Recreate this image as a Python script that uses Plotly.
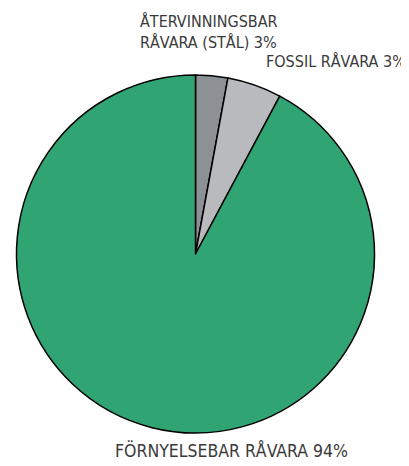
import plotly.graph_objects as go

categories = ["ÅTERVINNINGSBAR RÅVARA (STÅL)", "FOSSIL RÅVARA", "FÖRNYELSEBAR RÅVARA"]
values = [2.9, 4.9, 92.2]
label_texts = ["ÅTERVINNINGSBAR<br>RÅVARA (STÅL) 3%", "FOSSIL RÅVARA 3%", "FÖRNYELSEBAR RÅVARA 94%"]
colors = ["#8d9094", "#b9babd", "#31a474"]

# page body has an 8px margin, so the figure is drawn 8px smaller and coordinates shifted
OFF = 8
W, H = 409 - OFF, 466 - OFF
fig = go.Figure(go.Pie(
    labels=categories, values=values, sort=False, direction="clockwise", rotation=0,
    marker=dict(colors=colors, line=dict(color="black", width=1.5)),
    textinfo="none", hoverinfo="label+percent", showlegend=False,
    domain=dict(x=[(16-OFF)/W, (375-OFF)/W], y=[1-(433-OFF)/H, 1-(75-OFF)/H]),
))

fam = "DejaVu Sans Condensed, Liberation Sans Narrow, Roboto"
pos = [(138, 31.5, "left", 16), (408, 62, "right", 16), (232, 450, "center", 17.5)]
for t, (x, y, xa, fs) in zip(label_texts, pos):
    fig.add_annotation(text=t, x=(x-OFF)/W, y=1-(y-OFF)/H, xref="paper", yref="paper",
                       xanchor=xa, yanchor="middle", showarrow=False, align="left",
                       font=dict(family=fam, size=fs, color="#3a3a3a"))

fig.update_layout(width=W, height=H, margin=dict(l=0, r=0, t=0, b=0),
                  paper_bgcolor="white", plot_bgcolor="white")
fig.write_html("out.html")
